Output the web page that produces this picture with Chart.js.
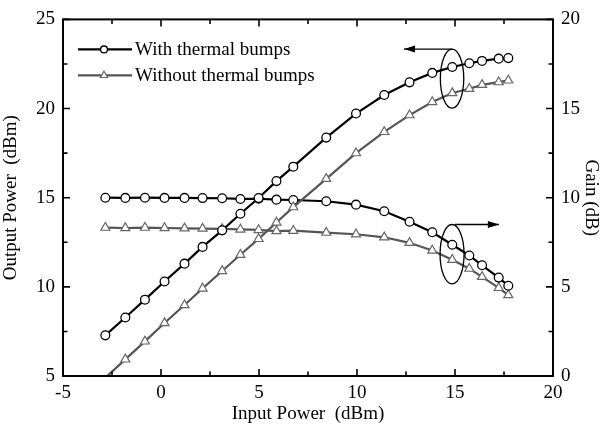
<!DOCTYPE html>
<html>
<head>
<meta charset="utf-8">
<script src="https://cdn.jsdelivr.net/npm/chart.js@4/dist/chart.umd.min.js"></script>
<style>
  body { margin: 0; background: #fff; }
  #wrap { width: 600px; height: 428px; position: relative; }
</style>
</head>
<body>
<div id="wrap"><canvas id="chart"></canvas></div>
<script>
// Input power (dBm) shared by all four curves
const inputPower = [-2.84, -1.82, -0.82, 0.18, 1.2, 2.12, 3.12, 4.05, 4.98, 5.89, 6.75, 8.43, 9.95, 11.39, 12.68, 13.84, 14.86, 15.73, 16.38, 17.23, 17.72];

// Output power (dBm), left axis
const outputWith = [7.28, 8.28, 9.28, 10.3, 11.3, 12.24, 13.17, 14.1, 14.98, 15.93, 16.74, 18.37, 19.72, 20.76, 21.47, 22.0, 22.33, 22.54, 22.67, 22.8, 22.83];
const outputWithout = [4.9, 5.93, 6.94, 7.97, 8.98, 9.91, 10.89, 11.8, 12.69, 13.61, 14.47, 16.06, 17.5, 18.69, 19.63, 20.37, 20.87, 21.11, 21.33, 21.48, 21.58];

// Gain (dB), right axis
const gainWith = [10.0, 9.99, 10.0, 9.99, 9.99, 9.98, 9.97, 9.93, 9.94, 9.89, 9.87, 9.8, 9.61, 9.24, 8.65, 8.06, 7.36, 6.76, 6.21, 5.52, 5.06];
const gainWithout = [8.32, 8.3, 8.32, 8.3, 8.28, 8.27, 8.25, 8.22, 8.19, 8.13, 8.15, 8.04, 7.95, 7.78, 7.47, 7.04, 6.52, 6.02, 5.56, 4.94, 4.54];

// tick labels
const xTicks = [-5, 0, 5, 10, 15, 20];
const yTicks = [5, 10, 15, 20, 25];
const gainTicks = [0, 5, 10, 15, 20];

const legendLabels = ['With thermal bumps', 'Without thermal bumps'];

const FONT = '"Liberation Serif", "Times New Roman", serif';
const GRAY = '#555';

Chart.defaults.font.family = FONT;
Chart.defaults.font.size = 19;
Chart.defaults.color = '#000';

const pts = arr => inputPower.map((x, i) => ({ x: x, y: arr[i] }));

// hide markers that fall outside the axis range (the line itself is clipped)
const radiusIn = r => c => {
    const s = c.chart.scales[c.dataset.yAxisID];
    const v = c.raw ? c.raw.y : 0;
    return (v < s.min || v > s.max) ? 0 : r;
};

const circle = { pointStyle: 'circle', pointRadius: radiusIn(4.4), pointBorderWidth: 1.3, pointBackgroundColor: '#fff', pointBorderColor: '#000', borderColor: '#000', borderWidth: 2.2, legendRadius: 3.4 };
const tri = { pointStyle: 'triangle', pointRadius: radiusIn(5.2), pointBorderWidth: 1.2, pointBackgroundColor: '#fff', pointBorderColor: '#666', borderColor: GRAY, borderWidth: 2.2, legendRadius: 4.2 };

function setTicks(values) {
    return scale => { scale.ticks = values.map(v => ({ value: v })); };
}

function midpoints(values) {
    const out = [];
    for (let i = 0; i < values.length - 1; i++) out.push((values[i] + values[i + 1]) / 2);
    return out;
}

const decorations = {
    id: 'decorations',
    afterDraw(chart) {
        const { ctx, chartArea: a, scales } = chart;
        const x = scales.x, y = scales.y, y2 = scales.y2;
        ctx.save();

        // frame
        ctx.strokeStyle = '#000';
        ctx.lineWidth = 2;
        ctx.strokeRect(a.left, a.top, a.right - a.left, a.bottom - a.top);

        // inward ticks
        ctx.lineWidth = 1.6;
        ctx.beginPath();
        const tickX = (v, len) => {
            const px = x.getPixelForValue(v);
            ctx.moveTo(px, a.bottom); ctx.lineTo(px, a.bottom - len);
            ctx.moveTo(px, a.top); ctx.lineTo(px, a.top + len);
        };
        xTicks.forEach(v => tickX(v, 7));
        midpoints(xTicks).forEach(v => tickX(v, 4.5));
        const tickY = (scale, v, len, side) => {
            const py = scale.getPixelForValue(v);
            if (side === 'left') { ctx.moveTo(a.left, py); ctx.lineTo(a.left + len, py); }
            else { ctx.moveTo(a.right, py); ctx.lineTo(a.right - len, py); }
        };
        yTicks.forEach(v => tickY(y, v, 7, 'left'));
        midpoints(yTicks).forEach(v => tickY(y, v, 4.5, 'left'));
        gainTicks.forEach(v => tickY(y2, v, 7, 'right'));
        midpoints(gainTicks).forEach(v => tickY(y2, v, 4.5, 'right'));
        ctx.stroke();

        // legend
        [circle, tri].forEach((s, i) => {
            const ly = a.top + 30 + i * 26;
            ctx.strokeStyle = s.borderColor;
            ctx.lineWidth = 2.4;
            ctx.beginPath();
            ctx.moveTo(a.left + 15, ly);
            ctx.lineTo(a.left + 69, ly);
            ctx.stroke();
            ctx.fillStyle = '#fff';
            ctx.strokeStyle = s.pointBorderColor;
            ctx.lineWidth = s.pointBorderWidth;
            Chart.helpers.drawPoint(ctx, { pointStyle: s.pointStyle, radius: s.legendRadius, borderWidth: s.pointBorderWidth }, a.left + 41, ly);
            ctx.fillStyle = '#000';
            ctx.font = '19px ' + FONT;
            ctx.textBaseline = 'middle';
            ctx.fillText(legendLabels[i], a.left + 72, ly + 1);
        });

        // ellipses with arrows
        const cx = x.getPixelForValue(14.85);
        const arrow = (x0, x1, py) => {
            ctx.strokeStyle = '#000';
            ctx.fillStyle = '#000';
            ctx.lineWidth = 1.3;
            ctx.beginPath();
            ctx.moveTo(x0, py); ctx.lineTo(x1, py);
            ctx.stroke();
            const dir = x1 > x0 ? 1 : -1;
            ctx.beginPath();
            ctx.moveTo(x1, py);
            ctx.lineTo(x1 - dir * 11, py - 3.5);
            ctx.lineTo(x1 - dir * 11, py + 3.5);
            ctx.closePath();
            ctx.fill();
        };
        ctx.strokeStyle = '#000';
        ctx.lineWidth = 1.3;
        const cy1 = y.getPixelForValue(21.68);
        ctx.beginPath();
        ctx.ellipse(cx, cy1, 11.7, 29.5, 0, 0, Math.PI * 2);
        ctx.stroke();
        arrow(cx, x.getPixelForValue(12.4), cy1 - 29.5);

        const cy2 = y2.getPixelForValue(6.83);
        ctx.strokeStyle = '#000';
        ctx.lineWidth = 1.3;
        ctx.beginPath();
        ctx.ellipse(cx, cy2, 12, 29.7, 0, 0, Math.PI * 2);
        ctx.stroke();
        arrow(cx + 3, x.getPixelForValue(17.24), cy2 - 29.7);

        ctx.restore();
    }
};

new Chart(document.getElementById('chart'), {
    type: 'scatter',
    data: {
        datasets: [
            Object.assign({ label: legendLabels[0] + ' (output)', data: pts(outputWith), yAxisID: 'y' }, circle),
            Object.assign({ label: legendLabels[1] + ' (output)', data: pts(outputWithout), yAxisID: 'y' }, tri),
            Object.assign({ label: legendLabels[0] + ' (gain)', data: pts(gainWith), yAxisID: 'y2' }, circle),
            Object.assign({ label: legendLabels[1] + ' (gain)', data: pts(gainWithout), yAxisID: 'y2' }, tri)
        ].map(d => Object.assign(d, { showLine: true, tension: 0, clip: 0 }))
    },
    options: {
        responsive: true,
        maintainAspectRatio: false,
        animation: false,
        layout: { padding: { top: 16, right: 0, left: 0, bottom: 0 } },
        plugins: { legend: { display: false }, tooltip: { enabled: false } },
        scales: {
            x: {
                type: 'linear', min: -5, max: 20,
                afterBuildTicks: setTicks(xTicks),
                afterFit: s => { s.height = 52; },
                grid: { display: false, drawTicks: false },
                border: { display: false },
                ticks: { padding: 6 },
                title: { display: true, text: 'Input Power  (dBm)', padding: { top: 0, bottom: 4 }, font: { lineHeight: 1 } }
            },
            y: {
                position: 'left', min: 5, max: 25,
                afterBuildTicks: setTicks(yTicks),
                afterFit: s => { s.width = 63; },
                grid: { display: false, drawTicks: false },
                border: { display: false },
                ticks: { padding: 8 },
                title: { display: true, text: 'Output Power  (dBm)', padding: { top: 2, bottom: 0 }, font: { lineHeight: 1 } }
            },
            y2: {
                position: 'right', min: 0, max: 20,
                afterBuildTicks: setTicks(gainTicks),
                afterFit: s => { s.width = 47; },
                grid: { display: false, drawTicks: false },
                border: { display: false },
                ticks: { padding: 8 },
                title: { display: true, text: 'Gain (dB)', padding: { top: 0, bottom: 0 }, font: { lineHeight: 1 } }
            }
        }
    },
    plugins: [decorations]
});
</script>
</body>
</html>
